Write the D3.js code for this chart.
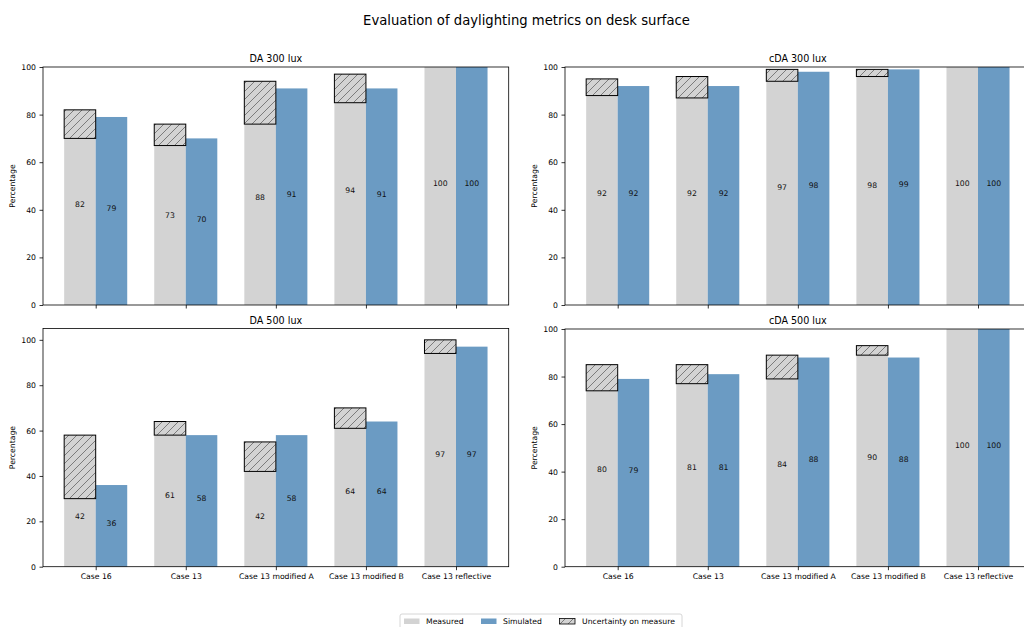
<!DOCTYPE html>
<html>
<head>
<meta charset="utf-8">
<script src="https://cdn.jsdelivr.net/npm/d3@7"></script>
<style>
  body { margin: 0; background: #fff; }
  svg { display: block; font-family: "DejaVu Sans", sans-serif; }
</style>
</head>
<body>
<svg id="chart" width="1024" height="627"></svg>
<script>
const categories = ["Case 16", "Case 13", "Case 13 modified A", "Case 13 modified B", "Case 13 reflective"];

// DA 300 lux
const da300Measured = [82, 73, 88, 94, 100];
const da300Simulated = [79, 70, 91, 91, 100];
const da300UncLow = [70, 67, 76, 85, 100];
const da300UncHigh = [82, 76, 94, 97, 100];

// cDA 300 lux
const cda300Measured = [92, 92, 97, 98, 100];
const cda300Simulated = [92, 92, 98, 99, 100];
const cda300UncLow = [88, 87, 94, 96, 100];
const cda300UncHigh = [95, 96, 99, 99, 100];

// DA 500 lux
const da500Measured = [42, 61, 42, 64, 97];
const da500Simulated = [36, 58, 58, 64, 97];
const da500UncLow = [30, 58, 42, 61, 94];
const da500UncHigh = [58, 64, 55, 70, 100];

// cDA 500 lux
const cda500Measured = [80, 81, 84, 90, 100];
const cda500Simulated = [79, 81, 88, 88, 100];
const cda500UncLow = [74, 77, 79, 89, 100];
const cda500UncHigh = [85, 85, 89, 93, 100];

const yTicks = [0, 20, 40, 60, 80, 100];
const legendLabels = ["Measured", "Simulated", "Uncertainty on measure"];

const panels = [
  {title: "DA 300 lux", measured: da300Measured, simulated: da300Simulated, low: da300UncLow, high: da300UncHigh, ymax: 100, x0: 43, y0: 67, y1: 305, xlabels: false},
  {title: "cDA 300 lux", measured: cda300Measured, simulated: cda300Simulated, low: cda300UncLow, high: cda300UncHigh, ymax: 100, x0: 565, y0: 67, y1: 305, xlabels: false},
  {title: "DA 500 lux", measured: da500Measured, simulated: da500Simulated, low: da500UncLow, high: da500UncHigh, ymax: 105, x0: 43, y0: 328.5, y1: 566.7, xlabels: true},
  {title: "cDA 500 lux", measured: cda500Measured, simulated: cda500Simulated, low: cda500UncLow, high: cda500UncHigh, ymax: 100, x0: 565, y0: 329, y1: 566.7, xlabels: true}
];

const W = 465.7;
const barW = 0.35;
const grayC = "#d3d3d3";
const blueC = "#6b9bc3";

const svg = d3.select("#chart");

const defs = svg.append("defs");
const S = 8;
const pat = defs.append("pattern").attr("id", "hatch").attr("patternUnits", "userSpaceOnUse")
  .attr("width", S).attr("height", S);
pat.append("rect").attr("width", S).attr("height", S).attr("fill", grayC);
pat.append("path").attr("d", `M-1,${S + 1} L${S + 1},-1 M-2,2 L2,-2 M${S - 2},${S + 2} L${S + 2},${S - 2}`)
  .attr("stroke", "#555").attr("stroke-width", 0.7);

svg.append("text").attr("x", 526.5).attr("y", 25).attr("text-anchor", "middle")
  .attr("font-size", 13.2).attr("fill", "#000")
  .text("Evaluation of daylighting metrics on desk surface");

panels.forEach(p => {
  const x = d3.scaleLinear().domain([-0.585, 4.585]).range([p.x0, p.x0 + W]);
  const y = d3.scaleLinear().domain([0, p.ymax]).range([p.y1, p.y0]);
  const g = svg.append("g");
  const idx = d3.range(categories.length);

  g.selectAll(".m").data(idx).join("rect")
    .attr("x", i => x(i - barW)).attr("width", x(barW) - x(0))
    .attr("y", i => y(p.low[i])).attr("height", i => y(0) - y(p.low[i]))
    .attr("fill", grayC);
  g.selectAll(".s").data(idx).join("rect")
    .attr("x", i => x(i)).attr("width", x(barW) - x(0))
    .attr("y", i => y(p.simulated[i])).attr("height", i => y(0) - y(p.simulated[i]))
    .attr("fill", blueC);
  g.selectAll(".u").data(idx.filter(i => p.high[i] > p.low[i])).join("rect")
    .attr("x", i => x(i - barW)).attr("width", x(barW) - x(0))
    .attr("y", i => y(p.high[i])).attr("height", i => y(p.low[i]) - y(p.high[i]))
    .attr("fill", "url(#hatch)").attr("stroke", "#000").attr("stroke-width", 1);

  g.selectAll(".lm").data(idx).join("text")
    .attr("x", i => x(i - barW / 2)).attr("y", i => y(p.measured[i] / 2))
    .attr("text-anchor", "middle").attr("font-size", 7.7).attr("fill", "#111")
    .text(i => p.measured[i]);
  g.selectAll(".ls").data(idx).join("text")
    .attr("x", i => x(i + barW / 2)).attr("y", i => y(p.simulated[i] / 2))
    .attr("text-anchor", "middle").attr("font-size", 7.7).attr("fill", "#111")
    .text(i => p.simulated[i]);

  const yAxis = d3.axisLeft(y).tickValues(yTicks).tickSize(3.5).tickPadding(3.5);
  const ya = g.append("g").attr("transform", `translate(${p.x0},0)`).call(yAxis);
  ya.select(".domain").remove();
  ya.selectAll("text").attr("font-size", 7.7).attr("font-family", "DejaVu Sans").attr("fill", "#000");
  ya.selectAll("line").attr("stroke", "#000").attr("stroke-width", 0.8);

  const xAxis = d3.axisBottom(x).tickValues(idx).tickSize(3.5).tickPadding(3.5)
    .tickFormat(i => p.xlabels ? categories[i] : "");
  const xa = g.append("g").attr("transform", `translate(0,${p.y1})`).call(xAxis);
  xa.select(".domain").remove();
  xa.selectAll("text").attr("font-size", 7.7).attr("font-family", "DejaVu Sans").attr("fill", "#000");
  xa.selectAll("line").attr("stroke", "#000").attr("stroke-width", 0.8);

  g.append("rect").attr("x", p.x0).attr("y", p.y0).attr("width", W).attr("height", p.y1 - p.y0)
    .attr("fill", "none").attr("stroke", "#000").attr("stroke-width", 0.8);

  g.append("text").attr("x", p.x0 + W / 2).attr("y", p.y0 - 5).attr("text-anchor", "middle")
    .attr("font-size", 9.6).attr("fill", "#000").text(p.title);

  g.append("text").attr("transform", `translate(${p.x0 - 28},${(p.y0 + p.y1) / 2}) rotate(-90)`)
    .attr("text-anchor", "middle").attr("font-size", 7.7).attr("fill", "#000").text("Percentage");
});

const lg = svg.append("g");
lg.append("rect").attr("x", 400).attr("y", 614).attr("width", 282).attr("height", 20).attr("rx", 2)
  .attr("fill", "#fff").attr("stroke", "#ccc").attr("stroke-width", 0.8);
const items = [
  {px: 404, tx: 426, fill: grayC, stroke: "none"},
  {px: 481, tx: 503, fill: blueC, stroke: "none"},
  {px: 559.5, tx: 582, fill: "url(#hatch)", stroke: "#000"}
];
items.forEach((it, i) => {
  lg.append("rect").attr("x", it.px).attr("y", 618.5).attr("width", 15.5).attr("height", 5.5)
    .attr("fill", it.fill).attr("stroke", it.stroke).attr("stroke-width", 0.8);
  lg.append("text").attr("x", it.tx).attr("y", 624).attr("font-size", 7.7).attr("fill", "#000")
    .text(legendLabels[i]);
});
</script>
</body>
</html>
